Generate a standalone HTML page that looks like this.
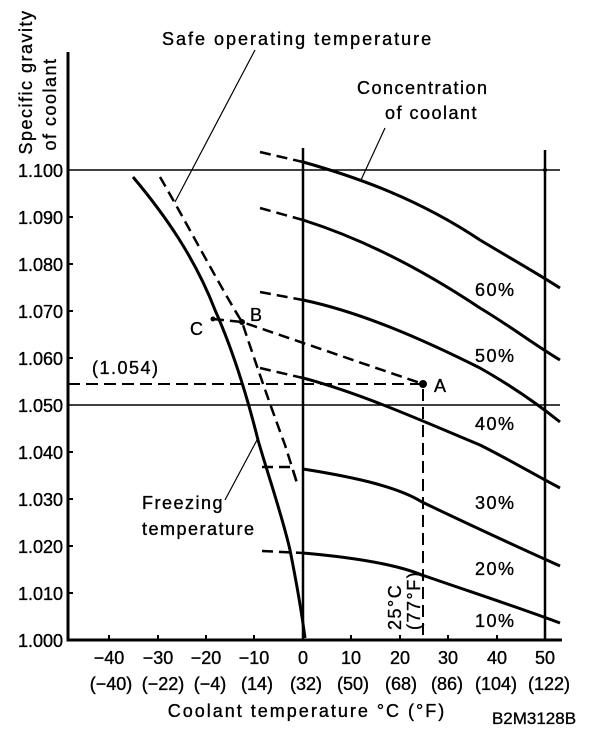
<!DOCTYPE html>
<html><head><meta charset="utf-8"><style>
html,body{margin:0;padding:0;background:#fff;}
svg{display:block;}
text{font-family:"Liberation Sans",sans-serif;fill:#000;stroke:#000;stroke-width:0.35;}
</style></head><body>
<svg width="608" height="730" viewBox="0 0 608 730" xmlns="http://www.w3.org/2000/svg">
<g font-size="18" letter-spacing="1.5">
<text transform="translate(32,82) rotate(-90)" text-anchor="middle">Specific gravity</text>
<text transform="translate(56,104) rotate(-90)" text-anchor="middle">of coolant</text>
<text x="162" y="45" letter-spacing="2">Safe operating temperature</text>
<text x="357" y="94">Concentration</text>
<text x="385" y="119">of coolant</text>
<text x="142" y="509">Freezing</text>
<text x="142" y="535">temperature</text>
<text x="190" y="335">C</text>
<text x="250" y="321">B</text>
<text x="434" y="392">A</text>
<text x="92" y="374">(1.054)</text>
<text x="475" y="296">60%</text>
<text x="475" y="362">50%</text>
<text x="475" y="430">40%</text>
<text x="475" y="509">30%</text>
<text x="475" y="575">20%</text>
<text x="475" y="627">10%</text>
<text transform="translate(401,630) rotate(-90)">25°C</text>
<text transform="translate(420,630) rotate(-90)">(77°F)</text>
</g>
<g font-size="18" text-anchor="end">
<text x="63" y="177">1.100</text><text x="63" y="224">1.090</text><text x="63" y="271">1.080</text>
<text x="63" y="318">1.070</text><text x="63" y="365">1.060</text><text x="63" y="412">1.050</text>
<text x="63" y="459">1.040</text><text x="63" y="506">1.030</text><text x="63" y="553">1.020</text>
<text x="63" y="600">1.010</text><text x="63" y="647">1.000</text>
</g>
<g font-size="18" text-anchor="middle">
<text x="109" y="664">−40</text><text x="158" y="664">−30</text><text x="206" y="664">−20</text><text x="254" y="664">−10</text>
<text x="303" y="664">0</text><text x="351" y="664">10</text><text x="400" y="664">20</text><text x="448" y="664">30</text>
<text x="497" y="664">40</text><text x="545" y="664">50</text>
<text x="111" y="690">(−40)</text><text x="163" y="690">(−22)</text><text x="210" y="690">(−4)</text><text x="257" y="690">(14)</text>
<text x="306" y="690">(32)</text><text x="353" y="690">(50)</text><text x="401" y="690">(68)</text><text x="447" y="690">(86)</text>
<text x="496" y="690">(104)</text><text x="549" y="690">(122)</text>
<text x="307" y="717" letter-spacing="2">Coolant temperature °C (°F)</text>
<text x="534" y="724" font-size="17">B2M3128B</text>
</g>
<g stroke="#000" fill="none">
<path d="M68 52 V640 H562" stroke-width="3"/>
<path d="M68 170 H560 M68 405 H560" stroke-width="1.5"/>
<path d="M303 148 V640 M545 150 V640" stroke-width="2.5"/>
<path d="M68 217h5M68 264h5M68 311h5M68 358h5M68 452h5M68 499h5M68 546h5M68 593h5" stroke-width="2"/>
<path d="M109 640v-5M158 640v-5M206 640v-5M254 640v-5M351 640v-5M400 640v-5M448 640v-5M497 640v-5" stroke-width="2"/>
<path d="M255 50 L175 202 M385 128 L361 180 M257 440 L225 500" stroke-width="1.2"/>
<path d="M133 177 C165 215 195 258 215 310 C235 355 248 400 258 440 C268 475 282 515 290 550 C297 585 302 615 305 638" stroke-width="3"/>
<path d="M160 177 C185 220 222 290 242 322 C258 370 272 410 285 445 L297 483" stroke-width="2.5" stroke-dasharray="11,6"/>
<g stroke-width="2.5" stroke-dasharray="11,6">
<path d="M260 152 L303 162"/><path d="M260 208 L303 220"/><path d="M260 292 L303 300"/>
<path d="M260 368 L303 378"/><path d="M262 467 L292 467 L297 483"/><path d="M262 551 L303 553"/>
<path d="M213 319 L242 322 L423 384"/>
</g>
<path d="M68 384 H423 V640" stroke-width="2" stroke-dasharray="12,6"/>
<g stroke-width="3">
<path d="M303 162 C360 178 420 200 480 240 C510 258 535 272 560 288"/>
<path d="M303 220 C360 238 420 268 480 308 C510 326 535 345 560 360"/>
<path d="M303 300 C360 312 420 338 480 368 C510 385 535 402 560 422"/>
<path d="M303 378 C360 393 420 420 480 445 C510 460 535 475 560 488"/>
<path d="M303 469 C360 478 400 488 422 502 C470 525 520 548 560 566"/>
<path d="M303 553 C360 558 400 566 422 575 C480 595 520 608 560 623"/>
</g>
</g>
<circle cx="423" cy="384" r="4" fill="#000"/>
<circle cx="242" cy="322" r="3" fill="#000"/>
<circle cx="213" cy="319" r="2.5" fill="#000"/>
<circle cx="545" cy="170" r="2" fill="#000"/>
</svg>
</body></html>
